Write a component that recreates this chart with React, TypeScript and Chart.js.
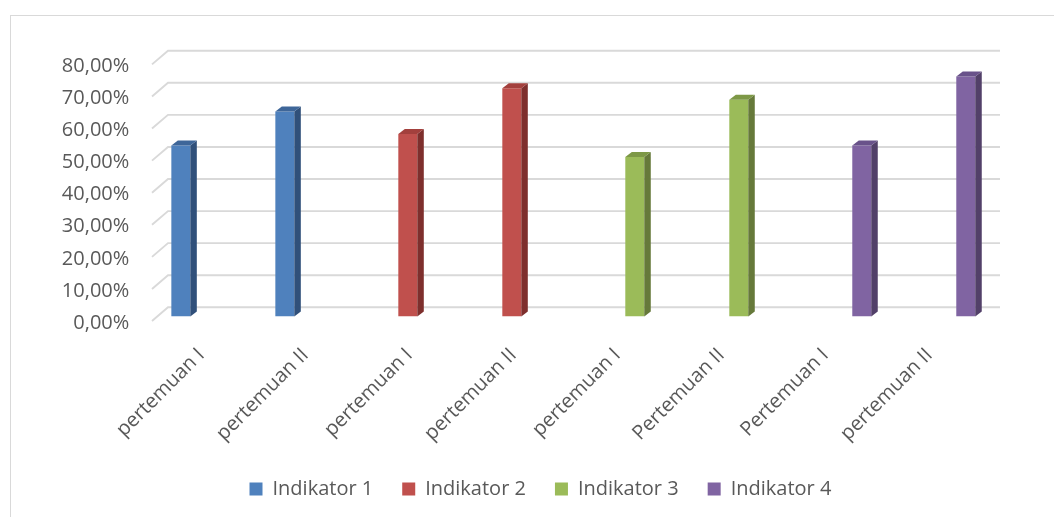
import React, { useEffect, useRef } from 'react';
import { Chart, registerables } from 'chart.js';

Chart.register(...registerables);

// Category labels along the x axis
const categories = [
  'pertemuan I',
  'pertemuan II',
  'pertemuan I',
  'pertemuan II',
  'pertemuan I',
  'Pertemuan II',
  'Pertemuan I',
  'pertemuan II',
];

const seriesNames = ['Indikator 1', 'Indikator 2', 'Indikator 3', 'Indikator 4'];

// Percentages per indicator (each indicator has its own two meetings)
const indikator1 = [53.3, 63.9, null, null, null, null, null, null];
const indikator2 = [null, null, 56.9, 71.2, null, null, null, null];
const indikator3 = [null, null, null, null, 49.7, 67.6, null, null];
const indikator4 = [null, null, null, null, null, null, 53.3, 74.8];

const yMax = 80;
const yStep = 10;

const frontColors = ['#4F81BD', '#C0504D', '#9BBB59', '#8064A2'];
const sideColors = ['#30507A', '#7E2F2D', '#66793A', '#524069'];
const topColors = ['#3E6699', '#A3403D', '#7D9846', '#69528A'];

const W = 1054;
const H = 517;
const FONT = "'Open Sans', sans-serif";
const TEXT = '#595959';

const PAD_LEFT = 20;
const PLOT_LEFT = 157.3;
const LEGEND_SHIFT = 35.8;

// oblique depth of the bars and of the walls
const BAR_DX = 6.5;
const BAR_DY = 5;
const BACK_DX = 10.7;
const BACK_DY = 9.2;
const FRONT_DX = 5.3;
const FRONT_DY = 4.5;

const wallGrid = {
  id: 'wallGrid',
  beforeDatasetsDraw(chart: any) {
    const { ctx, chartArea, scales } = chart;
    const y = scales.y;
    ctx.save();
    ctx.strokeStyle = '#D9D9D9';
    ctx.lineWidth = 1.9;
    y.ticks.forEach((t: any) => {
      const py = y.getPixelForValue(t.value);
      ctx.beginPath();
      ctx.moveTo(chartArea.left - FRONT_DX, py + FRONT_DY);
      ctx.lineTo(chartArea.left + BACK_DX, py - BACK_DY);
      ctx.lineTo(chartArea.right + BACK_DX, py - BACK_DY);
      ctx.stroke();
    });
    ctx.restore();
  },
};

const barDepth = {
  id: 'barDepth',
  afterDatasetsDraw(chart: any) {
    const { ctx } = chart;
    ctx.save();
    chart.data.datasets.forEach((ds: any, i: number) => {
      const meta = chart.getDatasetMeta(i);
      meta.data.forEach((bar: any, j: number) => {
        if (ds.data[j] == null) return;
        const { x, y, base, width } = bar.getProps(['x', 'y', 'base', 'width'], true);
        const l = x - width / 2;
        const r = x + width / 2;
        ctx.fillStyle = sideColors[i];
        ctx.beginPath();
        ctx.moveTo(r, y);
        ctx.lineTo(r + BAR_DX, y - BAR_DY);
        ctx.lineTo(r + BAR_DX, base - BAR_DY);
        ctx.lineTo(r, base);
        ctx.closePath();
        ctx.fill();
        ctx.fillStyle = topColors[i];
        ctx.beginPath();
        ctx.moveTo(l, y);
        ctx.lineTo(l + BAR_DX, y - BAR_DY);
        ctx.lineTo(r + BAR_DX, y - BAR_DY);
        ctx.lineTo(r, y);
        ctx.closePath();
        ctx.fill();
      });
    });
    ctx.restore();
  },
};

// moves the legend row to sit centred under the whole frame
const legendShift = {
  id: 'legendShift',
  afterLayout(chart: any) {
    const lg = chart.legend;
    if (lg) {
      lg.left += LEGEND_SHIFT;
      lg.right += LEGEND_SHIFT;
    }
  },
};

export default function App() {
  const canvasRef = useRef<HTMLCanvasElement | null>(null);

  useEffect(() => {
    if (!canvasRef.current) return;
    const seriesData = [indikator1, indikator2, indikator3, indikator4];
    const chart = new Chart(canvasRef.current, {
      type: 'bar',
      data: {
        labels: categories,
        datasets: seriesData.map((d, i) => ({
          label: seriesNames[i],
          data: d,
          backgroundColor: frontColors[i],
          borderWidth: 0,
          categoryPercentage: 0.73,
          barPercentage: 1,
        })),
      },
      options: {
        responsive: false,
        animation: false,
        devicePixelRatio: 1,
        layout: { padding: { left: PAD_LEFT, right: 64.7, top: 59.9, bottom: 8 } },
        plugins: {
          tooltip: { enabled: false },
          title: { display: false },
          legend: {
            position: 'bottom',
            labels: {
              boxWidth: 13,
              boxHeight: 13,
              padding: 29,
              color: TEXT,
              font: { family: FONT, size: 20 },
            },
          },
        },
        scales: {
          x: {
            grid: { display: false, drawTicks: false },
            border: { display: false },
            ticks: {
              color: TEXT,
              font: { family: FONT, size: 20 },
              minRotation: 45,
              maxRotation: 45,
              autoSkip: false,
              padding: 27,
              labelOffset: -8,
            },
            afterFit: (s: any) => {
              s.height = 133.5;
            },
          },
          y: {
            min: 0,
            max: yMax,
            grid: { display: false, drawTicks: false },
            border: { display: false },
            ticks: {
              stepSize: yStep,
              color: TEXT,
              font: { family: FONT, size: 20 },
              padding: 28,
              labelOffset: 6.5,
              callback: (v: any) => `${Number(v).toFixed(2).replace('.', ',')}%`,
            },
            afterFit: (s: any) => {
              s.width = PLOT_LEFT - PAD_LEFT;
            },
          },
        },
      },
      plugins: [wallGrid, barDepth, legendShift],
    });
    return () => chart.destroy();
  }, []);

  return (
    <div
      style={{
        position: 'fixed',
        left: 0,
        top: 0,
        width: W,
        height: H,
        overflow: 'hidden',
        background: '#ffffff',
      }}
    >
      <div
        style={{
          position: 'absolute',
          left: 10,
          top: 15,
          width: W + 40,
          height: H + 40,
          border: '1px solid #D9D9D9',
          boxSizing: 'border-box',
        }}
      />
      <canvas
        ref={canvasRef}
        width={W}
        height={H}
        style={{ position: 'absolute', left: 0, top: 0, width: W, height: H }}
      />
    </div>
  );
}
